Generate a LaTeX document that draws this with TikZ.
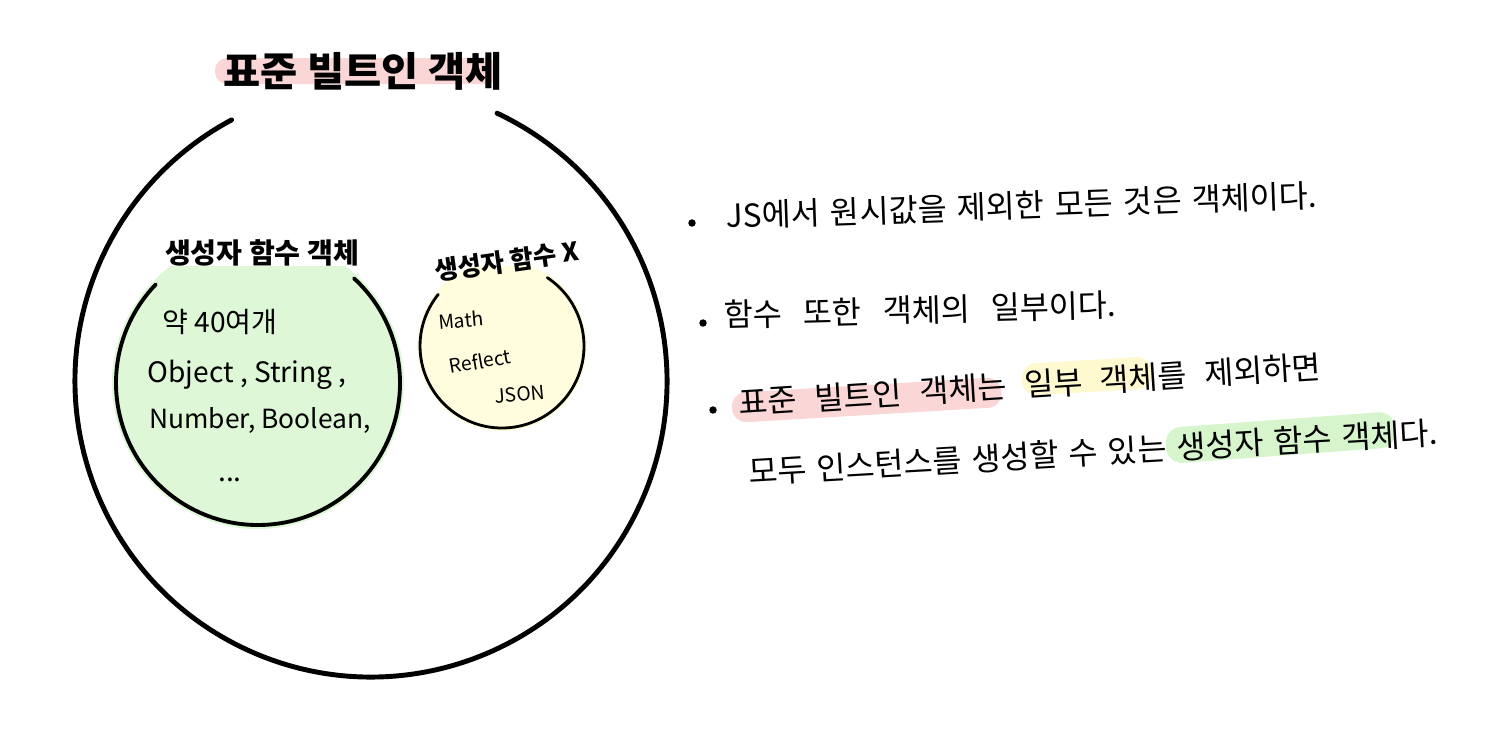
\documentclass[tikz,border=0pt]{standalone}
\usepackage{fontspec}
\setmainfont{Noto Sans CJK KR}
\usetikzlibrary{positioning, calc, backgrounds}

\definecolor{pinkhl}{RGB}{250,214,214}
\definecolor{yellowhl}{RGB}{255,249,208}
\definecolor{greenhl}{RGB}{214,245,204}
\definecolor{greenfill}{RGB}{222,247,214}
\definecolor{yellowfill}{RGB}{255,253,222}
\newcommand{\notegap}[1]{\spaceskip=#1\relax}

\begin{document}
\begin{tikzpicture}[x=0.02cm, y=-0.02cm, line cap=round,
        settitle/.style={font=\fontsize{23}{27}\selectfont\bfseries},
        subtitle/.style={font=\fontsize{#1}{19}\selectfont\bfseries},
        subtitle/.default=16,
        member/.style={font=\fontsize{#1}{19}\selectfont},
        member/.default=16,
        smallmember/.style={font=\fontsize{11}{13}\selectfont},
        note/.style={font=\fontsize{18}{21}\selectfont\notegap{#1}, inner sep=0pt},
        note/.default=0.45em,
        dot/.style={circle, fill, inner sep=1.5pt}]
        \useasboundingbox (0,0) rectangle (1486,735);

        % Circle centres
        \coordinate (allc) at (371,381);
        \coordinate (ctorc) at (258,383);
        \coordinate (nctorc) at (502,346);

        % Highlights
        \begin{scope}[on background layer]
            \fill[pinkhl, rounded corners=7pt] (215,58) rectangle (498,84);
            \begin{scope}
                \clip (0,266) rectangle (700,735);
                \fill[greenfill] (ctorc) circle[radius=146];
                \fill[yellowfill] (nctorc) circle[radius=85];
            \end{scope}
            \fill[pinkhl, rounded corners=8pt, rotate around={3.4:(732,408)}] (732,393) rectangle (1002,423);
            \fill[yellowhl, rounded corners=8pt, rotate around={3.4:(1022,380)}] (1022,364) rectangle (1152,396);
            \fill[greenhl, rounded corners=9pt, rotate around={4.2:(1166,446)}] (1166,428) rectangle (1396,464);
        \end{scope}

        % Circles
        \draw[line width=2.8pt] ([shift={(-64.8:296)}]allc) arc[start angle=-64.8, end angle=241.9, radius=296];
        \draw[line width=2.2pt] ([shift={(-47.5:142)}]ctorc) arc[start angle=-47.5, end angle=224, radius=142];
        \draw[line width=1.6pt] ([shift={(-56.5:82)}]nctorc) arc[start angle=-56.5, end angle=219, radius=82];

        % Set labels
        \node[settitle] (builtin) at (363,71) {표준 빌트인 객체};
        \node[subtitle] (ctor) at (262,253) {생성자 함수 객체};
        \node[subtitle=14.5, rotate=8] (nctor) at (507,261) {생성자 함수 X};

        % Constructor members
        \node[member] (count) at (220,322) {약 40여개};
        \node[member] (m1) at (247,375) {Object , String ,};
        \node[member=15] (m2) at (260,420) {Number, Boolean,};
        \node[member, anchor=base] (m3) at (230,481) {...};

        % Non-constructor members
        \node[smallmember, rotate=5] (math) at (461,320) {Math};
        \node[smallmember, rotate=10] (reflect) at (480,361) {Reflect};
        \node[smallmember, rotate=5] (json) at (520,394) {JSON};

        % Notes
        \node[dot] (b1) at (692,223) {};
        \node[dot] (b2) at (703,323) {};
        \node[dot] (b3) at (713,410) {};
        \node[note=0.33em, rotate=2, right=0.6cm of b1, yshift=0.14cm] (n1) {JS에서 원시값을 제외한 모든 것은 객체이다.};
        \node[note=0.67em, rotate=1.5, right=0.34cm of b2, yshift=0.16cm] (n2) {함수 또한 객체의 일부이다.};
        \node[note=0.56em, rotate=3.6, right=0.44cm of b3, yshift=0.14cm] (n3) {표준 빌트인 객체는 일부 객체를 제외하면};
        \node[note=0.32em, rotate=3.3, anchor=west] (n4) at (748,472) {모두 인스턴스를 생성할 수 있는 생성자 함수 객체다.};
\end{tikzpicture}
\end{document}
